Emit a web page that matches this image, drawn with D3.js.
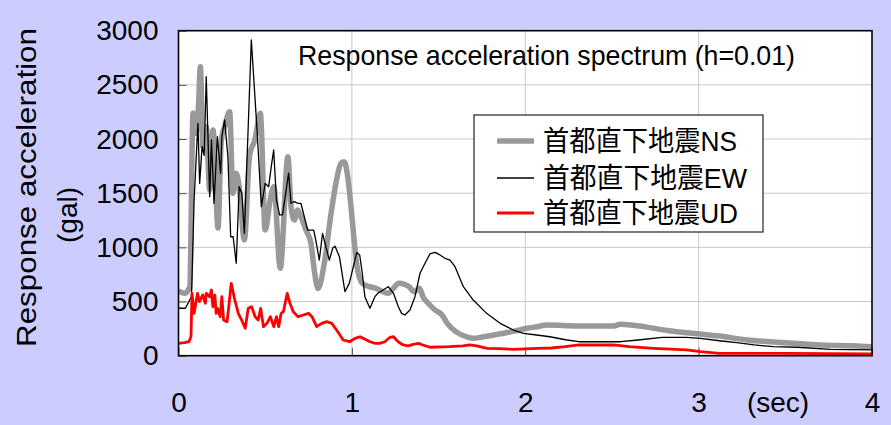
<!DOCTYPE html>
<html>
<head>
<meta charset="utf-8">
<script src="https://cdn.jsdelivr.net/npm/d3@7"></script>
<style>
  html, body { margin: 0; padding: 0; background: #ccccff; }
  svg { display: block; }
</style>
</head>
<body>
<svg id="chart" width="891" height="425"></svg>
<script>
// Response acceleration spectra (h = 0.01), period in seconds, acceleration in gal
const nsPeriod = [0, 0.035, 0.065, 0.084, 0.10, 0.115, 0.126, 0.141, 0.16, 0.18, 0.199, 0.228, 0.247, 0.266, 0.295, 0.314, 0.333, 0.35, 0.38, 0.41, 0.44, 0.472, 0.50, 0.53, 0.55, 0.587, 0.631, 0.649, 0.668, 0.687, 0.706, 0.735, 0.764, 0.783, 0.805, 0.841, 0.88, 0.908, 0.937, 0.956, 0.976, 0.995, 1.014, 1.03, 1.06, 1.10, 1.14, 1.18, 1.21, 1.24, 1.27, 1.30, 1.33, 1.36, 1.39, 1.41, 1.44, 1.48, 1.52, 1.55, 1.60, 1.66, 1.70, 1.76, 1.82, 1.89, 1.95, 2.01, 2.07, 2.12, 2.31, 2.51, 2.55, 2.66, 2.74, 2.83, 2.93, 3.01, 3.12, 3.28, 3.41, 3.55, 3.70, 3.89, 4.0];
const nsAccel = [600, 576, 637, 2240, 2050, 2300, 2668, 1930, 2114, 1530, 2083, 1179, 1991, 2114, 2252, 1499, 1684, 1560, 1068, 1850, 1990, 2237, 1160, 1450, 1560, 807, 1837, 1376, 1253, 1345, 1283, 1160, 1038, 791, 620, 853, 1314, 1591, 1776, 1791, 1653, 1376, 1050, 820, 668, 637, 622, 591, 576, 622, 668, 661, 637, 591, 622, 545, 484, 422, 376, 299, 222, 175, 160, 175, 191, 212, 231, 253, 268, 283, 274, 274, 290, 274, 253, 231, 212, 200, 182, 145, 129, 114, 99, 92, 83];

const ewPeriod = [0, 0.04, 0.075, 0.09, 0.112, 0.122, 0.136, 0.148, 0.16, 0.18, 0.19, 0.205, 0.224, 0.243, 0.25, 0.266, 0.285, 0.301, 0.315, 0.333, 0.35, 0.365, 0.38, 0.42, 0.453, 0.478, 0.50, 0.52, 0.535, 0.549, 0.565, 0.583, 0.60, 0.635, 0.649, 0.668, 0.687, 0.706, 0.745, 0.78, 0.795, 0.812, 0.831, 0.845, 0.87, 0.889, 0.903, 0.928, 0.96, 0.985, 1.028, 1.045, 1.06, 1.075, 1.104, 1.133, 1.15, 1.18, 1.21, 1.24, 1.268, 1.287, 1.306, 1.335, 1.364, 1.393, 1.422, 1.45, 1.479, 1.508, 1.537, 1.566, 1.595, 1.643, 1.70, 1.777, 1.855, 1.931, 1.99, 2.065, 2.142, 2.24, 2.31, 2.43, 2.55, 2.65, 2.79, 2.93, 3.01, 3.12, 3.22, 3.32, 3.43, 3.57, 3.76, 4.0];
const ewAccel = [438, 438, 545, 1437, 2145, 1591, 1930, 1850, 2575, 1468, 1991, 1407, 2021, 1684, 2021, 2176, 1837, 1098, 1100, 853, 1560, 1499, 1130, 2914, 2083, 1376, 1591, 1560, 1745, 1899, 1437, 1299, 1300, 1684, 1407, 1422, 1407, 1407, 1160, 1160, 1038, 883, 1130, 1038, 883, 991, 1010, 914, 591, 668, 951, 930, 761, 545, 437, 545, 576, 606, 637, 576, 452, 391, 376, 422, 545, 761, 853, 939, 954, 930, 899, 883, 822, 637, 514, 391, 299, 237, 207, 191, 175, 145, 129, 129, 129, 145, 170, 170, 160, 138, 120, 99, 83, 78, 59, 53];

const udPeriod = [0, 0.035, 0.06, 0.072, 0.078, 0.09, 0.11, 0.12, 0.14, 0.155, 0.16, 0.18, 0.19, 0.198, 0.21, 0.217, 0.225, 0.24, 0.25, 0.26, 0.28, 0.29, 0.304, 0.325, 0.345, 0.364, 0.385, 0.402, 0.422, 0.442, 0.46, 0.474, 0.49, 0.51, 0.53, 0.55, 0.565, 0.578, 0.592, 0.605, 0.627, 0.643, 0.662, 0.69, 0.72, 0.75, 0.77, 0.797, 0.826, 0.855, 0.884, 0.912, 0.95, 0.987, 1.018, 1.047, 1.076, 1.105, 1.134, 1.16, 1.19, 1.22, 1.24, 1.267, 1.296, 1.325, 1.354, 1.383, 1.41, 1.45, 1.56, 1.64, 1.68, 1.72, 1.78, 1.85, 1.93, 2.07, 2.15, 2.23, 2.31, 2.51, 2.60, 2.74, 2.93, 3.01, 3.12, 3.5, 4.0];
const udAccel = [114, 120, 129, 175, 576, 391, 576, 500, 560, 484, 576, 545, 606, 452, 560, 391, 437, 360, 545, 330, 314, 452, 668, 514, 391, 329, 253, 437, 452, 360, 329, 437, 268, 299, 360, 268, 360, 268, 391, 406, 576, 484, 406, 360, 376, 391, 360, 268, 299, 314, 299, 237, 145, 129, 160, 175, 151, 129, 114, 114, 129, 170, 175, 129, 99, 90, 105, 114, 99, 78, 83, 90, 99, 90, 68, 65, 59, 68, 71, 83, 99, 99, 83, 68, 53, 37, 22, 22, 16];

const seriesNames = ["首都直下地震NS", "首都直下地震EW", "首都直下地震UD"];
const xTickValues = [0, 1, 2, 3, 4];
const yTickValues = [0, 500, 1000, 1500, 2000, 2500, 3000];

const series = [
  { name: seriesNames[0], period: nsPeriod, accel: nsAccel, color: "#999999", width: 5.5, textLen: 194 },
  { name: seriesNames[1], period: ewPeriod, accel: ewAccel, color: "#000000", width: 1.3, textLen: 204 },
  { name: seriesNames[2], period: udPeriod, accel: udAccel, color: "#ff0000", width: 2.8, textLen: 195 }
];

const FONT = "'Liberation Sans', Arial, 'Noto Sans CJK JP', sans-serif";
const svg = d3.select("#chart");
const box = { left: 178.5, top: 30.7, right: 872, bottom: 355.7 };

const x = d3.scaleLinear().domain([0, 4]).range([box.left, box.right]);
const y = d3.scaleLinear().domain([0, 3000]).range([box.bottom, box.top]);

svg.append("rect").attr("width", 891).attr("height", 425).attr("fill", "#ccccff");
svg.append("rect")
  .attr("x", box.left).attr("y", box.top)
  .attr("width", box.right - box.left).attr("height", box.bottom - box.top)
  .attr("fill", "#ffffff");

// grid
const grid = svg.append("g").attr("stroke", "#c8c8c8").attr("stroke-width", 1);
grid.selectAll("line.h").data(yTickValues.slice(1, -1)).join("line")
  .attr("x1", box.left).attr("x2", box.right)
  .attr("y1", d => y(d)).attr("y2", d => y(d));
grid.selectAll("line.v").data(xTickValues.slice(1, -1)).join("line")
  .attr("y1", box.top).attr("y2", box.bottom)
  .attr("x1", d => x(d)).attr("x2", d => x(d));

// axes with inward ticks
const yAxis = svg.append("g")
  .attr("transform", `translate(${box.left},0)`)
  .call(d3.axisLeft(y).tickValues(yTickValues).tickSize(-8).tickPadding(20).tickFormat(d3.format("d")));
const xAxis = svg.append("g")
  .attr("transform", `translate(0,${box.bottom})`)
  .call(d3.axisBottom(x).tickValues(xTickValues).tickSize(-8).tickPadding(36).tickFormat(d3.format("d")));
[yAxis, xAxis].forEach(g => {
  g.select(".domain").remove();
  g.selectAll(".tick line").attr("stroke", "#555555");
  g.selectAll("text").attr("font-family", FONT).attr("font-size", 28).attr("fill", "#000");
});

// series
svg.append("clipPath").attr("id", "plotClip").append("rect")
  .attr("x", box.left).attr("y", box.top)
  .attr("width", box.right - box.left).attr("height", box.bottom - box.top);

const line = d3.line().x(d => x(d[0])).y(d => y(d[1]));
const lines = svg.append("g").attr("clip-path", "url(#plotClip)");
series.forEach((s, i) => {
  const pts = s.period.map((p, j) => [p, s.accel[j]]);
  lines.append("path")
    .datum(pts)
    .attr("fill", "none")
    .attr("stroke", s.color)
    .attr("stroke-width", s.width)
    .attr("stroke-linejoin", "round")
    .attr("d", i === 0 ? line.curve(d3.curveMonotoneX)(pts) : line.curve(d3.curveLinear)(pts));
});

// plot frame
svg.append("rect")
  .attr("x", box.left).attr("y", box.top)
  .attr("width", box.right - box.left).attr("height", box.bottom - box.top)
  .attr("fill", "none").attr("stroke", "#000").attr("stroke-width", 1.6);

// title inside plot
svg.append("text")
  .attr("x", 298).attr("y", 65)
  .attr("font-family", FONT).attr("font-size", 28)
  .attr("textLength", 497).attr("lengthAdjust", "spacingAndGlyphs")
  .text("Response acceleration spectrum (h=0.01)");

// axis titles
svg.append("text")
  .attr("transform", "translate(36,187.5) rotate(-90)")
  .attr("text-anchor", "middle")
  .attr("font-family", FONT).attr("font-size", 28)
  .attr("textLength", 319).attr("lengthAdjust", "spacingAndGlyphs")
  .text("Response acceleration");
svg.append("text")
  .attr("transform", "translate(77,215) rotate(-90)")
  .attr("text-anchor", "middle")
  .attr("font-family", FONT).attr("font-size", 28)
  .text("(gal)");
svg.append("text")
  .attr("x", 778).attr("y", box.bottom + 36 + 20)
  .attr("text-anchor", "middle")
  .attr("font-family", FONT).attr("font-size", 28)
  .text("(sec)");

// legend
const legend = svg.append("g");
legend.append("rect")
  .attr("x", 474).attr("y", 115).attr("width", 289).attr("height", 117)
  .attr("fill", "#ffffff").attr("stroke", "#222").attr("stroke-width", 1.2);
const rowY = [141, 178, 213];
series.forEach((s, i) => {
  legend.append("line")
    .attr("x1", 497).attr("x2", 534)
    .attr("y1", rowY[i]).attr("y2", rowY[i])
    .attr("stroke", s.color).attr("stroke-width", s.width);
  legend.append("text")
    .attr("x", 543).attr("y", rowY[i]).attr("dy", "0.36em")
    .attr("font-family", FONT).attr("font-size", 28)
    .attr("textLength", s.textLen).attr("lengthAdjust", "spacingAndGlyphs")
    .text(s.name);
});
</script>
</body>
</html>
